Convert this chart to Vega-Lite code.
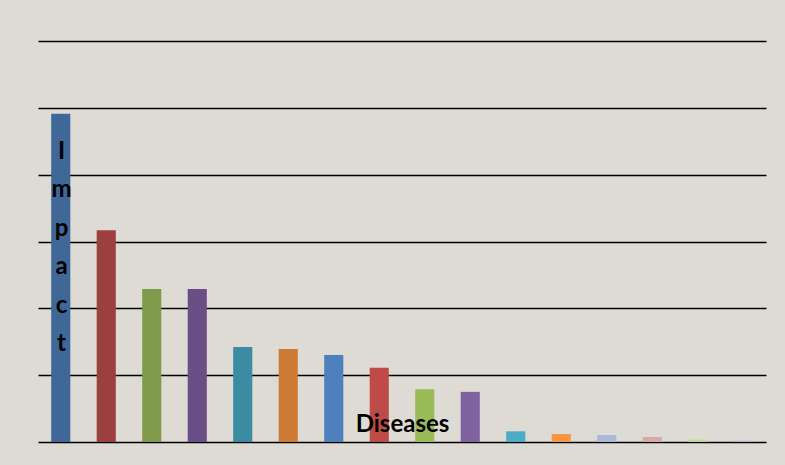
{
  "$schema": "https://vega.github.io/schema/vega-lite/v6.json",
  "width": 728,
  "height": 401,
  "autosize": {"type": "none"},
  "padding": {"left": 38, "top": 41, "right": 19, "bottom": 23},
  "background": "#dedbd4",
  "config": {
    "view": {"stroke": null, "fill": "#dedbd4"},
    "font": "Lato"
  },
  "data": {
    "values": [
      {"disease": "D01", "impact": 4.91},
      {"disease": "D02", "impact": 3.17},
      {"disease": "D03", "impact": 2.29},
      {"disease": "D04", "impact": 2.29},
      {"disease": "D05", "impact": 1.42},
      {"disease": "D06", "impact": 1.39},
      {"disease": "D07", "impact": 1.30},
      {"disease": "D08", "impact": 1.11},
      {"disease": "D09", "impact": 0.79},
      {"disease": "D10", "impact": 0.75},
      {"disease": "D11", "impact": 0.16},
      {"disease": "D12", "impact": 0.12},
      {"disease": "D13", "impact": 0.105},
      {"disease": "D14", "impact": 0.075},
      {"disease": "D15", "impact": 0.035},
      {"disease": "D16", "impact": 0.02}
    ]
  },
  "resolve": {"axis": {"x": "independent"}},
  "layer": [
    {
      "mark": {"type": "bar"},
      "encoding": {
        "x": {
          "field": "disease",
          "type": "nominal",
          "sort": null,
          "scale": {"paddingInner": 0.58, "paddingOuter": 0.29},
          "axis": {
            "orient": "bottom",
            "zindex": 1,
            "title": "Diseases",
            "labels": false,
            "ticks": false,
            "domain": false,
            "titleFont": "Lato",
            "titleFontSize": 24,
            "titleFontWeight": "bold",
            "titleColor": "#000000",
            "titleAlign": "center",
            "titleBaseline": "alphabetic",
            "titleX": 364,
            "titleY": -11
          }
        },
        "y": {
          "field": "impact",
          "type": "quantitative",
          "scale": {"domain": [0, 6], "nice": false},
          "axis": {
            "title": null,
            "values": [0, 1, 2, 3, 4, 5, 6],
            "labels": false,
            "ticks": false,
            "domain": false,
            "grid": true,
            "zindex": 0,
            "gridColor": "#000000",
            "gridWidth": 1.6,
            "gridOpacity": 1
          }
        },
        "color": {
          "field": "disease",
          "type": "nominal",
          "sort": null,
          "legend": null,
          "scale": {
            "range": ["#3f6899", "#9c403f", "#809a4c", "#6a4f86", "#3b8ba3", "#cc7b37", "#4d80bd", "#be4b48", "#9bbb59", "#7f63a1", "#4bacc6", "#f79646", "#a9bad8", "#d9a8a7", "#c3d69b", "#b7aec9"]
          }
        }
      }
    },
    {
      "mark": {"type": "bar", "opacity": 0},
      "encoding": {
        "x": {
          "field": "disease",
          "type": "nominal",
          "sort": null,
          "axis": {
            "orient": "top",
            "zindex": 1,
            "title": ["I", "m", "p", "a", "c", "t"],
            "labels": false,
            "ticks": false,
            "domain": false,
            "titleFont": "Lato",
            "titleFontSize": 24,
            "titleFontWeight": "bold",
            "titleColor": "#000000",
            "titleAngle": 0,
            "titleAlign": "center",
            "titleBaseline": "alphabetic",
            "titleLineHeight": 38.5,
            "titleX": 23,
            "titleY": 117
          }
        },
        "y": {"field": "impact", "type": "quantitative"}
      }
    }
  ]
}
